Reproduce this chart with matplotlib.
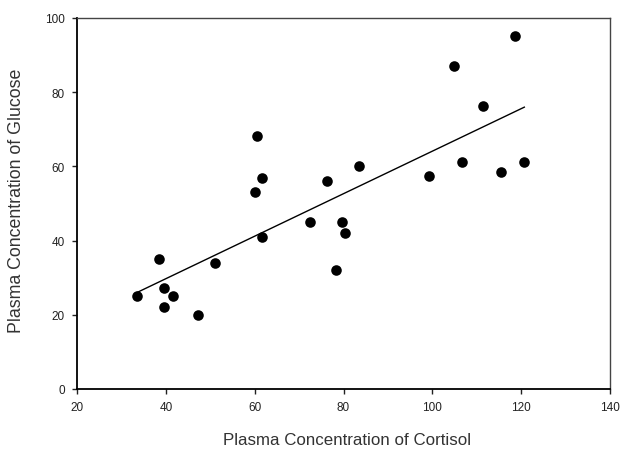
import numpy as np
import matplotlib
matplotlib.use('Agg')
import matplotlib.pyplot as plt

cortisol = [33.4, 38.5, 39.6, 39.6, 41.7, 47.3, 51.1, 60.1, 60.5, 61.6, 61.6,
            72.4, 76.2, 78.3, 79.6, 80.4, 83.4, 99.3, 104.8, 106.6, 111.5,
            115.5, 118.6, 120.7]
glucose = [25.1, 35.0, 27.1, 22.0, 25.0, 19.9, 34.0, 53.2, 68.1, 57.0, 41.1,
           45.1, 56.1, 32.2, 45.1, 42.0, 60.2, 57.3, 87.1, 61.1, 76.2,
           58.4, 95.2, 61.1]
x_ticks = [20, 40, 60, 80, 100, 120, 140]
y_ticks = [0, 20, 40, 60, 80, 100]

plt.rcParams['font.family'] = ['Liberation Sans', 'DejaVu Sans']

fig = plt.figure(figsize=(6.22, 4.52), dpi=100)
ax = fig.add_axes([0.1238, 0.1372, 0.857, 0.8208])

ax.scatter(cortisol, glucose, s=58, color='black', linewidths=0, zorder=3)

# least squares line over the data range
slope, intercept = np.polyfit(cortisol, glucose, 1)
xs = np.array([min(cortisol), max(cortisol)])
ax.plot(xs, slope * xs + intercept, color='black', lw=1.0)

ax.set_xlim(20, 140)
ax.set_ylim(0, 100)
ax.set_xticks(x_ticks)
ax.set_yticks(y_ticks)
ax.tick_params(labelsize=8.5, length=3.8, width=1, pad=5, direction='out',
               colors='#222222')
for side in ['left', 'bottom']:
    ax.spines[side].set_linewidth(1.3)
for side in ['top', 'right']:
    ax.spines[side].set_linewidth(1.0)
    ax.spines[side].set_color('#444444')

ax.set_xlabel('Plasma Concentration of Cortisol', fontsize=12.2, color='#333333')
ax.set_ylabel('Plasma Concentration of Glucose', fontsize=12.8, color='#333333')
ax.xaxis.set_label_coords(0.507, -0.115)
ax.yaxis.set_label_coords(-0.098, 0.509)

fig.savefig('out.png', dpi=100)
